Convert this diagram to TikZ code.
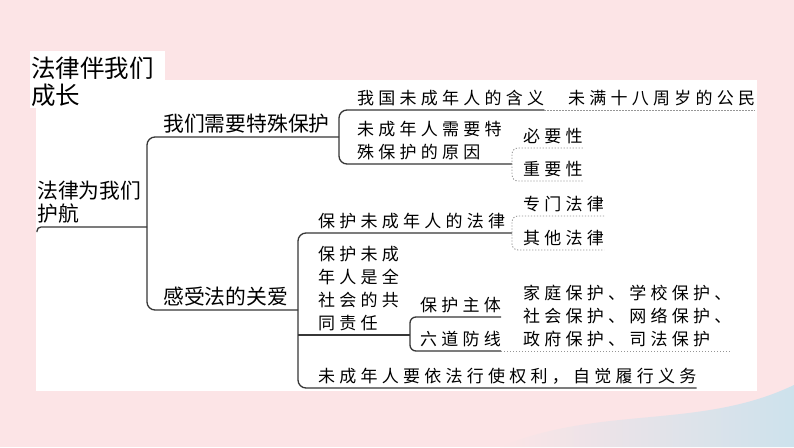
\documentclass[tikz,border=0pt]{standalone}
\usepackage{fontspec}
\newfontfamily\cjk{Noto Sans CJK SC}
\newfontfamily\cjkspaced[LetterSpace=25]{Noto Sans CJK SC}
\definecolor{BgClr}{RGB}{252,228,230}
\definecolor{WaveClr}{RGB}{205,226,236}
\definecolor{LineClr}{RGB}{55,55,55}
\definecolor{DotClr}{RGB}{150,150,150}

\begin{document}
\begin{tikzpicture}[x=1pt,y=-1pt,
  title/.style={font=\cjk\fontsize{24.5}{27}\selectfont,inner sep=0pt,anchor=north west,align=left},
  head/.style={font=\cjk\fontsize{20.8}{23}\selectfont,inner xsep=0pt,inner ysep=3.5pt,anchor=south west,align=left},
  leaf/.style={font=\cjkspaced\fontsize{17}{23}\selectfont,inner xsep=0pt,inner ysep=3.5pt,anchor=south west,align=left},
  link/.style={line width=1.3pt,draw=LineClr,rounded corners=8pt},
  dotlink/.style={line width=0.9pt,draw=DotClr,dash pattern=on 1.2pt off 1.8pt,rounded corners=6pt}]

\useasboundingbox (0,0) rectangle (794,447);
\fill[BgClr] (0,0) rectangle (794,447);
\shade[left color=BgClr,right color=WaveClr] (500,447) .. controls (600,405) and (700,430) .. (794,385) -- (794,447) -- cycle;
\fill[white] (36,80) rectangle (757,391);
\fill[white] (30,51) rectangle (165,108);

% spines
\coordinate (sA) at (147,0);
\coordinate (sB) at (339,0);
\coordinate (sC) at (512,0);
\coordinate (sD) at (298,0);
\coordinate (sE) at (410,0);

\node[title] (ttl) at (31,57) {法律伴我们\\成长};
\node[head] (root) at (37,227) {法律为我们\\护航};
\node[head] (need) at (163,137) {我们需要特殊保护};
\node[head] (care) at (163,310) {感受法的关爱};

\node[leaf] (mean) at (357,110) {我国未成年人的含义};
\node[leaf] (citizen) at (568,110) {未满十八周岁的公民};
\node[leaf] (why) at (357,164) {未成年人需要特\\殊保护的原因};
\node[leaf] (must) at (523,148) {必要性};
\node[leaf] (imp) at (523,181) {重要性};

\node[leaf] (law) at (318,233) {保护未成年人的法律};
\node[leaf] (spec) at (523,216) {专门法律};
\node[leaf] (other) at (523,250) {其他法律};
\node[leaf] (duty) at (318,335) {保护未成\\年人是全\\社会的共\\同责任};
\node[leaf] (subj) at (420,317) {保护主体};
\node[leaf] (six) at (420,351) {六道防线};
\node[leaf] (list) at (523,351) {家庭保护、学校保护、\\社会保护、网络保护、\\政府保护、司法保护};
\node[leaf] (right) at (318,388) {未成年人要依法行使权利，自觉履行义务};

% connectors
\draw[link,rounded corners=4pt] ([yshift=-5pt]root.south west) -- (root.south west) -- (root.south west -| sA);
\draw[link] (need.south west -| sB) -- (need.south west -| sA) -- (care.south west -| sA) -- (care.south west -| sD);
\draw[link] (mean.south east) -- (mean.south west -| sB) -- (why.south west -| sB) -- (why.south west -| sC);
\draw[dotlink] (mean.south east) -- (citizen.south east);
\draw[dotlink] (must.south east) -- (must.south west -| sC) -- (imp.south west -| sC) -- (imp.south east);
\draw[link] (law.south west -| sC) -- (law.south west -| sD) -- (right.south west -| sD) -- (right.south east);
\draw[link] (duty.south west -| sD) -- (duty.south west -| sE);
\draw[dotlink] (spec.south east) -- (spec.south west -| sC) -- (other.south west -| sC) -- (other.south east);
\draw[link,rounded corners=6pt] (subj.south east) -- (subj.south west -| sE) -- (six.south west -| sE) -- (six.south east);
\draw[dotlink] (six.south east) -- (list.south east);

\end{tikzpicture}
\end{document}
